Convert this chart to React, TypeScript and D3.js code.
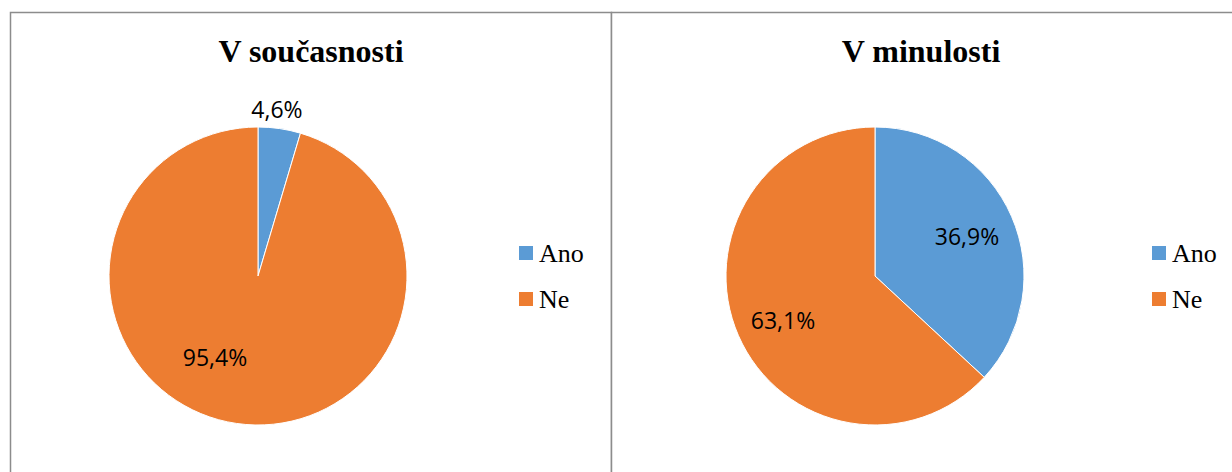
import * as d3 from "d3"
import { useEffect, useRef } from "react"

const categories = ["Ano", "Ne"]
const currentValues = [4.6, 95.4]
const pastValues = [36.9, 63.1]
const titles = ["V současnosti", "V minulosti"]
const colours = ["#5B9BD5", "#ED7D31"]

const width = 1232
const height = 472

const panels = [
  { title: titles[0], values: currentValues, x: 10, w: 601, cx: 258, titleX: 311, legendX: 519, labels: [[277, 109], [215, 357]] },
  { title: titles[1], values: pastValues, x: 611, w: 630, cx: 875, titleX: 921, legendX: 1152, labels: [[967, 236], [783, 320]] },
]

const App = () => {
  const ref = useRef<SVGSVGElement>(null)

  useEffect(() => {
    const svg = d3.select(ref.current)
    svg.selectAll("*").remove()
    svg.attr("width", width).attr("height", height)

    const radius = 149
    const cy = 276

    panels.forEach((p) => {
      const g = svg.append("g")

      g.append("rect")
        .attr("x", p.x + 0.5)
        .attr("y", 12.5)
        .attr("width", p.w)
        .attr("height", 500)
        .attr("fill", "#fff")
        .attr("stroke", "#8c8c8c")
        .attr("stroke-width", 1.5)

      g.append("text")
        .attr("x", p.titleX)
        .attr("y", 62)
        .attr("text-anchor", "middle")
        .attr("font-family", "Liberation Serif, serif")
        .attr("font-weight", "bold")
        .attr("font-size", 32)
        .text(p.title)

      const pie = d3.pie<number>().sort(null)
      const arc = d3.arc<d3.PieArcDatum<number>>().innerRadius(0).outerRadius(radius)
      const arcs = pie(p.values)

      const pg = g.append("g").attr("transform", `translate(${p.cx},${cy})`)
      pg.selectAll("path")
        .data(arcs)
        .enter()
        .append("path")
        .attr("d", arc)
        .attr("fill", (_, i) => colours[i])
        .attr("stroke", "#fff")
        .attr("stroke-width", 1)

      arcs.forEach((a, i) => {
        g.append("text")
          .attr("x", p.labels[i][0])
          .attr("y", p.labels[i][1])
          .attr("text-anchor", "middle")
          .attr("dominant-baseline", "central")
          .attr("font-family", "Open Sans, sans-serif")
          .attr("font-size", 23)
          .attr("fill", "#000")
          .text(d3.format(".1f")(a.data).replace(".", ",") + "%")
      })

      categories.forEach((c, i) => {
        const ly = 246 + i * 46
        g.append("rect")
          .attr("x", p.legendX)
          .attr("y", ly)
          .attr("width", 14)
          .attr("height", 14)
          .attr("fill", colours[i])
        g.append("text")
          .attr("x", p.legendX + 20)
          .attr("y", ly + 16)
          .attr("font-family", "Liberation Serif, serif")
          .attr("font-size", 26)
          .attr("fill", "#000")
          .text(c)
      })
    })
  }, [])

  return <svg ref={ref} style={{ position: "absolute", left: 0, top: 0 }} />
}

export default App
